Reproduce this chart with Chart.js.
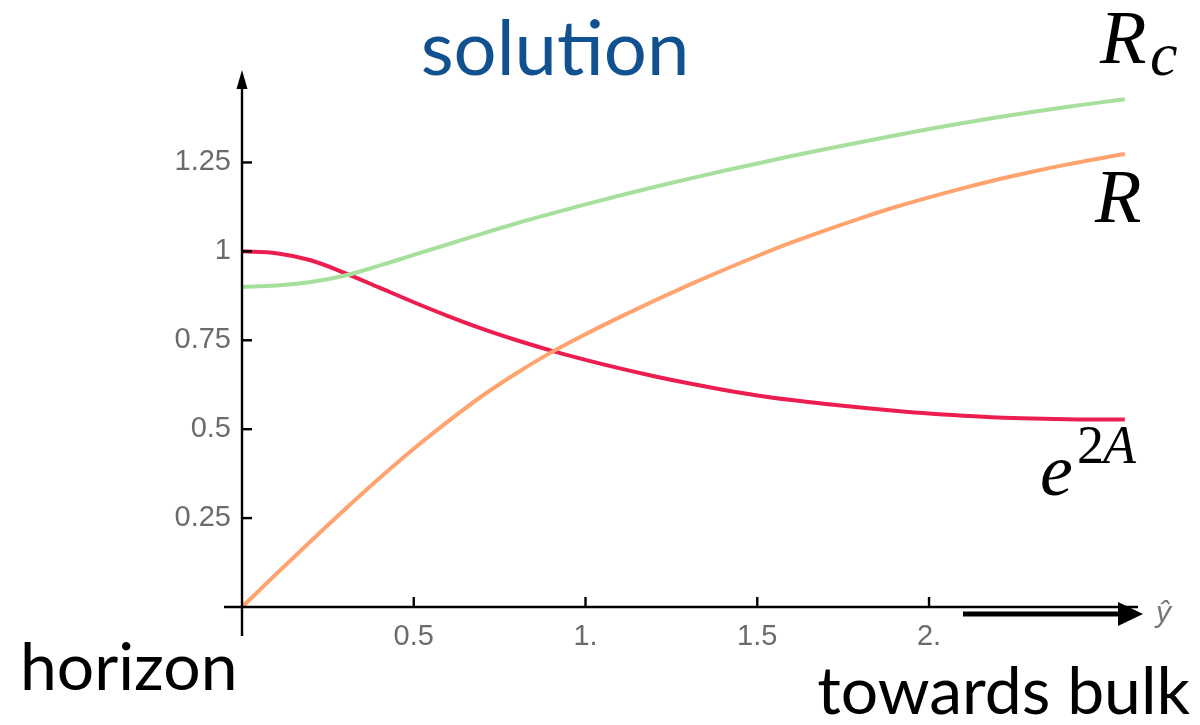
<!DOCTYPE html>
<html>
<head>
<meta charset="utf-8">
<title>solution</title>
<script src="https://cdn.jsdelivr.net/npm/chart.js@4"></script>
<style>
  html, body { margin: 0; padding: 0; background: #fff; }
  #wrap { width: 1200px; height: 725px; }
</style>
</head>
<body>
<div id="wrap"><canvas id="solutionChart" width="1200" height="725"></canvas></div>
<script>
// values
const yHat = [0, 0.1, 0.2, 0.3, 0.4, 0.5, 0.6, 0.7, 0.8, 0.9, 1.0, 1.1, 1.2, 1.3,
              1.4, 1.5, 1.6, 1.7, 1.8, 1.9, 2.0, 2.1, 2.2, 2.3, 2.4, 2.5, 2.57];
const e2A = [1.0, 0.995, 0.975, 0.939, 0.898, 0.857, 0.818, 0.782, 0.75, 0.721, 0.695,
             0.671, 0.649, 0.629, 0.611, 0.595, 0.582, 0.571, 0.561, 0.552, 0.544, 0.538,
             0.533, 0.53, 0.528, 0.527, 0.527];
const R = [0, 0.093, 0.185, 0.275, 0.362, 0.445, 0.522, 0.594, 0.658, 0.716, 0.767,
           0.815, 0.861, 0.905, 0.947, 0.987, 1.025, 1.06, 1.093, 1.124, 1.152, 1.178,
           1.202, 1.224, 1.244, 1.262, 1.274];
const Rc = [0.9, 0.904, 0.914, 0.932, 0.96, 0.99, 1.02, 1.05, 1.079, 1.106, 1.132,
            1.157, 1.181, 1.204, 1.226, 1.247, 1.268, 1.288, 1.307, 1.326, 1.344,
            1.361, 1.377, 1.392, 1.406, 1.419, 1.428];

const xTicks = [0.5, 1, 1.5, 2];
const xTickLabels = ['0.5', '1.', '1.5', '2.'];
const yTicks = [0.25, 0.5, 0.75, 1, 1.25];
const yTickLabels = ['0.25', '0.5', '0.75', '1', '1.25'];

const SERIF = '"Liberation Serif", "Times New Roman", Times, serif';

document.addEventListener('DOMContentLoaded', () => {
  drawChart();
});

function toPoints(ys) {
  return yHat.map((x, i) => ({ x: x, y: ys[i] }));
}

// axes with arrows, drawn over the curves
const axesPlugin = {
  id: 'axes',
  afterDatasetsDraw(chart) {
    const ctx = chart.ctx;
    const sx = chart.scales.x;
    const sy = chart.scales.y;
    const x0 = sx.getPixelForValue(0);
    const y0 = sy.getPixelForValue(0);

    ctx.save();
    ctx.strokeStyle = '#000';
    ctx.fillStyle = '#000';
    ctx.lineWidth = 2.4;

    // horizontal axis
    ctx.beginPath();
    ctx.moveTo(x0 - 18, y0);
    ctx.lineTo(sx.right - 4, y0);
    ctx.stroke();

    // vertical axis
    ctx.beginPath();
    ctx.moveTo(x0, y0 + 29);
    ctx.lineTo(x0, sy.top + 14);
    ctx.stroke();
    ctx.beginPath();
    ctx.moveTo(x0, sy.top);
    ctx.lineTo(x0 - 5.5, sy.top + 19);
    ctx.lineTo(x0 + 5.5, sy.top + 19);
    ctx.closePath();
    ctx.fill();

    // tick marks
    xTicks.forEach(v => {
      const px = sx.getPixelForValue(v);
      ctx.beginPath();
      ctx.moveTo(px, y0);
      ctx.lineTo(px, y0 - 10);
      ctx.stroke();
    });
    yTicks.forEach(v => {
      const py = sy.getPixelForValue(v);
      ctx.beginPath();
      ctx.moveTo(x0, py);
      ctx.lineTo(x0 + 10, py);
      ctx.stroke();
    });

    // thick arrow "towards bulk"
    ctx.lineWidth = 5;
    ctx.beginPath();
    ctx.moveTo(963, y0 + 7);
    ctx.lineTo(1122, y0 + 7);
    ctx.stroke();
    ctx.beginPath();
    ctx.moveTo(1143, y0 + 7);
    ctx.lineTo(1118, y0 - 5);
    ctx.lineTo(1118, y0 + 19);
    ctx.closePath();
    ctx.fill();
    ctx.restore();
  }
};

// title, side texts and curve names
const labelsPlugin = {
  id: 'labels',
  afterDraw(chart) {
    const ctx = chart.ctx;
    ctx.save();
    ctx.textBaseline = 'alphabetic';

    ctx.fillStyle = '#11518f';
    ctx.textAlign = 'center';
    ctx.font = '76px Lato';
    ctx.fillText('solution', 555, 75);

    ctx.fillStyle = '#000';
    ctx.textAlign = 'left';
    ctx.font = '66px Lato';
    ctx.fillText('horizon', 20, 690);
    ctx.textAlign = 'right';
    ctx.fillText('towards bulk', 1190, 714);

    ctx.textAlign = 'left';
    ctx.font = 'italic 76px ' + SERIF;
    ctx.fillText('R', 1100, 63);
    ctx.fillText('R', 1095, 222);
    ctx.font = 'italic 62px ' + SERIF;
    ctx.fillText('c', 1150, 75);

    ctx.font = 'italic 74px ' + SERIF;
    ctx.fillText('e', 1040, 495);
    ctx.font = '54px ' + SERIF;
    ctx.fillText('2', 1077, 463);
    ctx.font = 'italic 54px ' + SERIF;
    ctx.fillText('A', 1103, 463);

    ctx.fillStyle = '#777';
    ctx.font = 'italic 30px "Liberation Sans"';
    ctx.fillText('\u0177', 1156, 622);
    ctx.restore();
  }
};

function drawChart() {
  const ctx = document.getElementById('solutionChart').getContext('2d');

  const lineStyle = {
    showLine: true,
    pointRadius: 0,
    borderWidth: 4,
    cubicInterpolationMode: 'monotone',
    clip: false
  };

  new Chart(ctx, {
    type: 'scatter',
    data: {
      datasets: [
        Object.assign({ label: 'Rc', data: toPoints(Rc), borderColor: '#a6e09c' }, lineStyle),
        Object.assign({ label: 'R', data: toPoints(R), borderColor: '#ffa36f' }, lineStyle),
        Object.assign({ label: 'e2A', data: toPoints(e2A), borderColor: '#ec1e50' }, lineStyle)
      ]
    },
    options: {
      responsive: false,
      animation: false,
      layout: { padding: { top: 70, right: 58, left: 0, bottom: 0 } },
      plugins: {
        legend: { display: false },
        tooltip: { enabled: false }
      },
      scales: {
        x: {
          type: 'linear',
          min: 0,
          max: 2.62,
          afterFit: s => { s.height = 118; },
          afterBuildTicks: s => { s.ticks = xTicks.map(v => ({ value: v })); },
          grid: { display: false, drawTicks: false },
          border: { display: false },
          ticks: {
            padding: 13,
            color: '#6b6b6b',
            font: { family: 'Liberation Sans', size: 29 },
            callback: v => xTickLabels[xTicks.indexOf(v)]
          }
        },
        y: {
          type: 'linear',
          min: 0,
          max: 1.51,
          afterFit: s => { s.width = 242; },
          afterBuildTicks: s => { s.ticks = yTicks.map(v => ({ value: v })); },
          grid: { display: false, drawTicks: false },
          border: { display: false },
          ticks: {
            padding: 11,
            color: '#6b6b6b',
            font: { family: 'Liberation Sans', size: 29 },
            callback: v => yTickLabels[yTicks.indexOf(v)]
          }
        }
      }
    },
    plugins: [axesPlugin, labelsPlugin]
  });
}
</script>
</body>
</html>
